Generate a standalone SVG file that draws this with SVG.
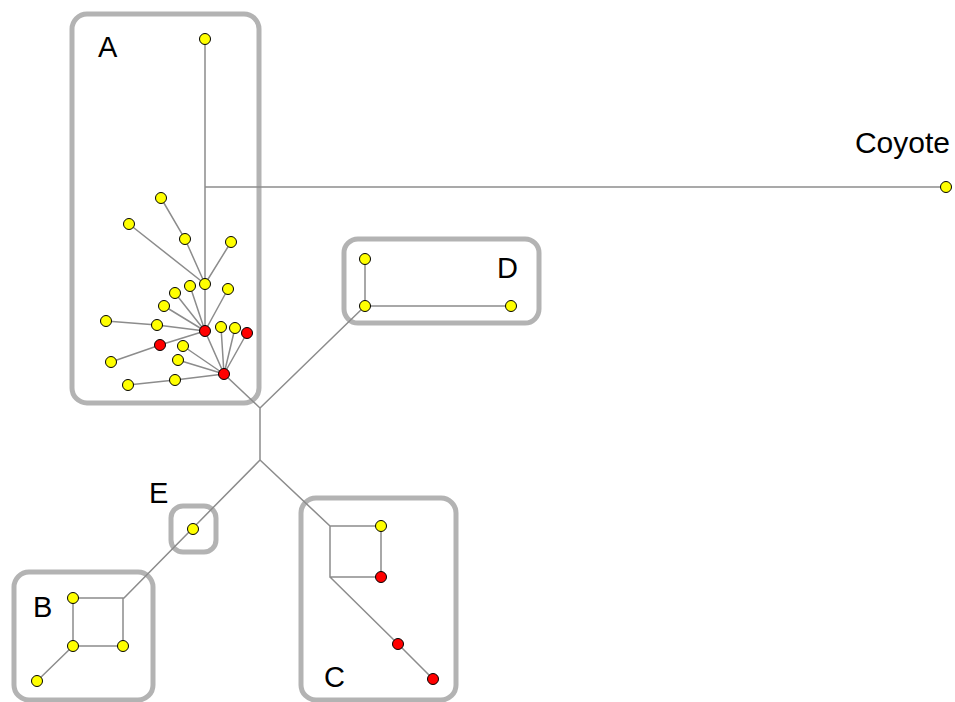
<svg xmlns="http://www.w3.org/2000/svg" width="955" height="702" viewBox="0 0 955 702">
<style>
.box{fill:none;stroke:#b3b3b3;stroke-width:5}
.e{stroke:#8c8c8c;stroke-width:1.5;fill:none}
.y{fill:#ffff00;stroke:#000;stroke-width:1}
.r{fill:#ff0000;stroke:#000;stroke-width:1}
.lbl{font-family:"Liberation Sans",Arial,sans-serif;font-size:29px;fill:#000}
</style>
<rect width="955" height="702" fill="#fff"/>
<g id="boxes">
<rect class="box" x="72" y="14" width="187" height="389" rx="15"/>
<rect class="box" x="344" y="239" width="195" height="84" rx="14"/>
<rect class="box" x="171" y="506" width="45" height="46" rx="12"/>
<rect class="box" x="14" y="572" width="139" height="128" rx="15"/>
<rect class="box" x="301" y="498" width="155" height="202" rx="15"/>
</g>
<g id="connectors">
<path class="e" d="M205,39V331L224,374L260,408V460L124,598H73V646H123V598M73,646L37,681"/>
<path class="e" d="M205,187H946"/>
<path class="e" d="M365,306L260,408M365,259V306H511"/>
<path class="e" d="M260,460L330,526H381V577H330V526M330,577L398,644L433,679"/>
<path class="e" d="M161,198L185,239L205,284M129,224L205,284M231,242L205,284"/>
<path class="e" d="M190,286L205,331M175,293L205,331M164,306L205,331M106,321L157,325L205,331M228,289L205,331M111,362L160,345L205,331"/>
<path class="e" d="M221,327L224,374M235,328L224,374M247,333L224,374M183,346L224,374M178,360L224,374M128,385L175,380L224,374"/>
</g>
<g id="nodeA">
<circle class="y" cx="205" cy="39" r="5.5"/>
<circle class="y" cx="161" cy="198" r="5.5"/>
<circle class="y" cx="129" cy="224" r="5.5"/>
<circle class="y" cx="185" cy="239" r="5.5"/>
<circle class="y" cx="231" cy="242" r="5.5"/>
<circle class="y" cx="205" cy="284" r="5.5"/>
<circle class="y" cx="190" cy="286" r="5.5"/>
<circle class="y" cx="175" cy="293" r="5.5"/>
<circle class="y" cx="228" cy="289" r="5.5"/>
<circle class="y" cx="164" cy="306" r="5.5"/>
<circle class="y" cx="106" cy="321" r="5.5"/>
<circle class="y" cx="157" cy="325" r="5.5"/>
<circle class="r" cx="205" cy="331" r="5.5"/>
<circle class="y" cx="221" cy="327" r="5.5"/>
<circle class="y" cx="235" cy="328" r="5.5"/>
<circle class="r" cx="247" cy="333" r="5.5"/>
<circle class="r" cx="160" cy="345" r="5.5"/>
<circle class="y" cx="183" cy="346" r="5.5"/>
<circle class="y" cx="111" cy="362" r="5.5"/>
<circle class="y" cx="178" cy="360" r="5.5"/>
<circle class="r" cx="224" cy="374" r="5.5"/>
<circle class="y" cx="175" cy="380" r="5.5"/>
<circle class="y" cx="128" cy="385" r="5.5"/>
<text class="lbl" x="98" y="57">A</text>
</g>
<g id="nodeCoyote">
<circle class="y" cx="946" cy="187" r="5.5"/>
<text class="lbl" x="950" y="153" text-anchor="end" style="font-size:30px">Coyote</text>
</g>
<g id="nodeD">
<circle class="y" cx="365" cy="259" r="5.5"/>
<circle class="y" cx="365" cy="306" r="5.5"/>
<circle class="y" cx="511" cy="306" r="5.5"/>
<text class="lbl" x="497" y="278">D</text>
</g>
<g id="nodeE">
<circle class="y" cx="193" cy="529" r="5.5"/>
<text class="lbl" x="149" y="503">E</text>
</g>
<g id="nodeB">
<circle class="y" cx="73" cy="598" r="5.5"/>
<circle class="y" cx="73" cy="646" r="5.5"/>
<circle class="y" cx="123" cy="646" r="5.5"/>
<circle class="y" cx="37" cy="681" r="5.5"/>
<text class="lbl" x="33" y="617">B</text>
</g>
<g id="nodeC">
<circle class="y" cx="381" cy="526" r="5.5"/>
<circle class="r" cx="381" cy="577" r="5.5"/>
<circle class="r" cx="398" cy="644" r="5.5"/>
<circle class="r" cx="433" cy="679" r="5.5"/>
<text class="lbl" x="324" y="687">C</text>
</g>
</svg>
